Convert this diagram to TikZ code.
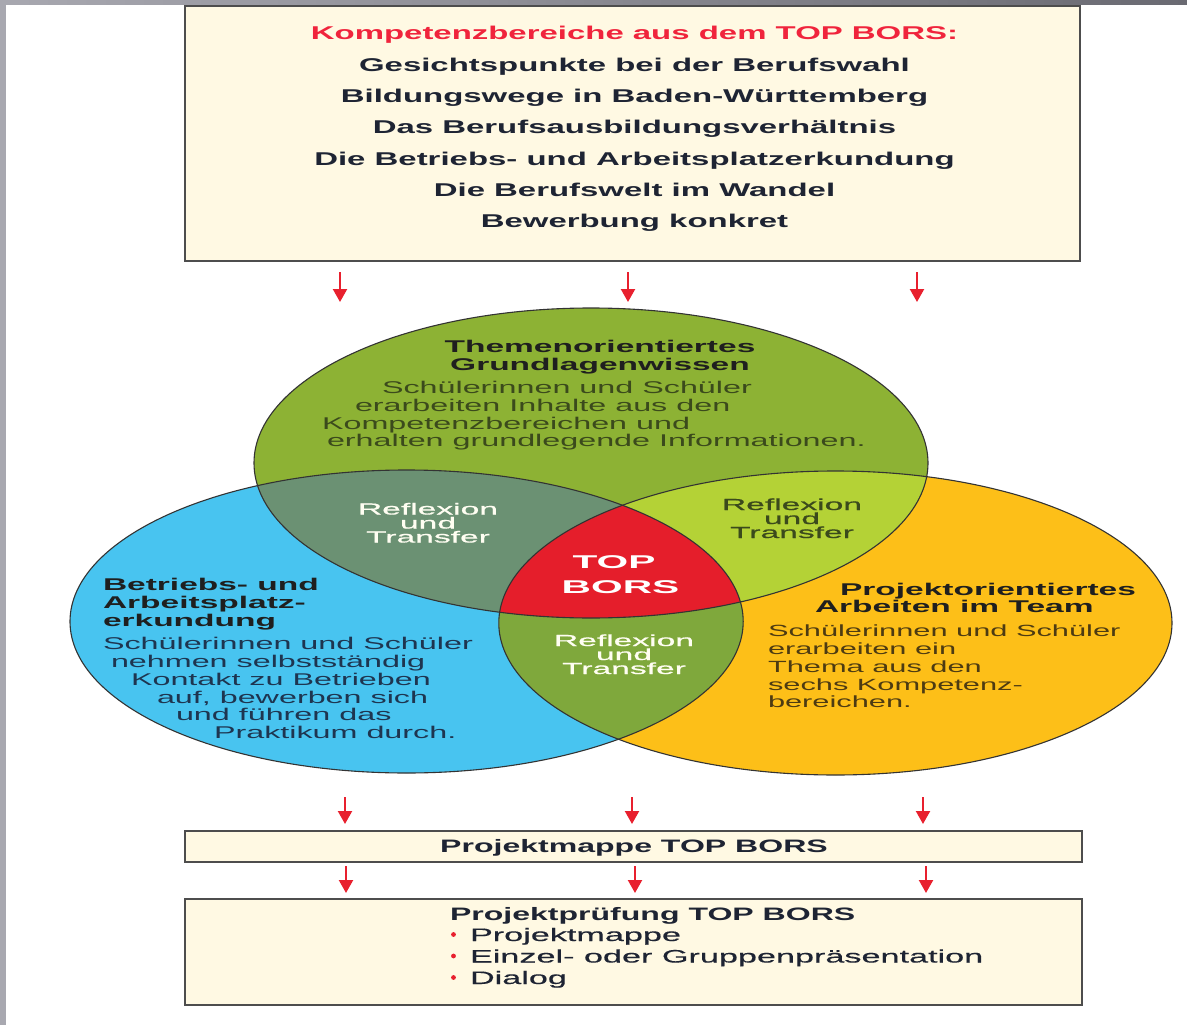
\documentclass[tikz,border=0pt]{standalone}
\usepackage{fontspec}
\usetikzlibrary{arrows.meta}
\newfontfamily\fHead[FakeStretch=1.78]{Liberation Sans}
\newfontfamily\fCT[FakeStretch=1.97]{Liberation Sans}
\newfontfamily\fCB[FakeStretch=1.9]{Liberation Sans}
\newfontfamily\fIt[FakeStretch=1.9,FakeBold=0.4]{Liberation Sans}
\newfontfamily\fRef[FakeStretch=2.1,FakeBold=0.8]{Liberation Sans}
\newfontfamily\fTB[FakeStretch=2.2]{Liberation Sans}
\definecolor{frame}{HTML}{A8A8B0}
\definecolor{framedark}{HTML}{6A6A72}
\definecolor{cream}{HTML}{FFF9E3}
\definecolor{boxline}{HTML}{4D4D4D}
\definecolor{cgreen}{HTML}{8DB234}
\definecolor{cblue}{HTML}{48C4F0}
\definecolor{corange}{HTML}{FDBF18}
\definecolor{cgb}{HTML}{6B9173}
\definecolor{cgo}{HTML}{B4D236}
\definecolor{cbo}{HTML}{7FA83C}
\definecolor{cred}{HTML}{E51E2B}
\definecolor{headred}{HTML}{F0243C}
\definecolor{darktext}{HTML}{1E2433}
\definecolor{gtext}{HTML}{3B4A1C}
\definecolor{btext}{HTML}{1E3550}
\definecolor{otext}{HTML}{4D3B12}
\definecolor{arrowred}{HTML}{E8202E}
\tikzset{
  boxstyle/.style={fill=cream, draw=boxline, line width=2pt},
  ring/.style={draw=black!80, line width=1.1pt},
  txt/.style={inner sep=0pt, outer sep=0pt},
  headline/.style={txt, anchor=base, font=\fHead\bfseries\fontsize{18.5}{22}\selectfont, text=darktext},
  ctitle/.style={txt, font=\fCT\bfseries\fontsize{17}{18}\selectfont, text=black!88},
  cbody/.style={txt, anchor=base west, font=\fCB\fontsize{17}{18}\selectfont},
  refl/.style={txt, anchor=base, font=\fRef\fontsize{16}{16}\selectfont},
  redarrow/.style={draw=arrowred, line width=2.2pt, -{Triangle[width=14pt,length=13pt]}},
}
\begin{document}
\begin{tikzpicture}[x=1pt,y=-1pt]
\useasboundingbox (0,0) rectangle (1187,1025);
\fill[white] (0,0) rectangle (1187,1025);
% screenshot frame
\fill[frame] (0,0) rectangle (6,1025);
\shade[left color=frame, right color=framedark] (0,0) rectangle (1187,4.5);

% top box
\draw[boxstyle] (185,6) rectangle (1080,261);
\node[headline, text=headred] (k0) at (634.5,40) {Kompetenzbereiche aus dem TOP BORS:};
\foreach \y/\t [count=\i] in {71.2/{Gesichtspunkte bei der Berufswahl},
  102.5/{Bildungswege in Baden-Württemberg},
  133.8/{Das Berufsausbildungsverhältnis},
  165.1/{Die Betriebs- und Arbeitsplatzerkundung},
  196.4/{Die Berufswelt im Wandel},
  227.7/{Bewerbung konkret}}
  \node[headline] (k\i) at (634.5,\y) {\t};

% arrows row 1
\foreach \x [count=\i] in {340,628,917}{
  \coordinate (ua\i) at (\x,272);
  \coordinate (ub\i) at (\x,302);
  \draw[redarrow] (ua\i) -- (ub\i);
}

% Venn diagram
\def\EG{(591,463) ellipse [x radius=337, y radius=155]}
\def\EB{(406.6,621.5) ellipse [x radius=336.6, y radius=151.5]}
\def\EO{(835.4,623) ellipse [x radius=336.6, y radius=152]}
\fill[cblue] \EB;
\fill[corange] \EO;
\fill[cgreen] \EG;
\begin{scope}\clip \EG; \fill[cgb] \EB; \end{scope}
\begin{scope}\clip \EG; \fill[cgo] \EO; \end{scope}
\begin{scope}\clip \EB; \fill[cbo] \EO; \end{scope}
\begin{scope}\clip \EG; \clip \EB; \fill[cred] \EO; \end{scope}
\draw[ring] \EB;
\draw[ring] \EO;
\draw[ring] \EG;

% green circle text
\node[ctitle, anchor=base] (gt1) at (600,352.5) {Themenorientiertes};
\node[ctitle, anchor=base] (gt2) at (600,370) {Grundlagenwissen};
\foreach \x/\y/\t [count=\i] in {382/393.5/{Schülerinnen und Schüler},
  355/411/{erarbeiten Inhalte aus den},
  322/429/{Kompetenzbereichen und},
  327/446.5/{erhalten grundlegende Informationen.}}
  \node[cbody, text=gtext] (gb\i) at (\x,\y) {\t};

% blue circle text
\foreach \y/\t [count=\i] in {590/{Betriebs- und}, 608/{Arbeitsplatz-}, 626/{erkundung}}
  \node[ctitle, anchor=base west] (bt\i) at (103,\y) {\t};
\foreach \x/\y/\t [count=\i] in {103/649/{Schülerinnen und Schüler},
  111/667/{nehmen selbstständig},
  131/685/{Kontakt zu Betrieben},
  157/703/{auf, bewerben sich},
  176/720.5/{und führen das},
  214/738/{Praktikum durch.}}
  \node[cbody, text=btext] (bb\i) at (\x,\y) {\t};

% orange circle text
\node[ctitle, anchor=base west] (ot1) at (840,595) {Projektorientiertes};
\node[ctitle, anchor=base west] (ot2) at (815,612) {Arbeiten im Team};
\foreach \y/\t [count=\i] in {636/{Schülerinnen und Schüler},
  654/{erarbeiten ein},
  672/{Thema aus den},
  690/{sechs Kompetenz-},
  707/{bereichen.}}
  \node[cbody, text=otext, font=\fCB\fontsize{16.2}{18}\selectfont] (ob\i) at (768,\y) {\t};

% intersections
\foreach \y/\t [count=\i] in {514.5/Reflexion, 528.5/und, 542.5/Transfer}
  \node[refl, text=white!95!yellow] (rl\i) at (428,\y) {\t};
\foreach \y/\t [count=\i] in {510/Reflexion, 524/und, 538/Transfer}
  \node[refl, text=gtext] (rr\i) at (792,\y) {\t};
\foreach \y/\t [count=\i] in {646/Reflexion, 660/und, 674/Transfer}
  \node[refl, text=white!95!yellow] (rb\i) at (624,\y) {\t};
\node[txt, anchor=base, font=\fTB\bfseries\fontsize{18.5}{20}\selectfont, text=white] (tb1) at (614,568) {TOP};
\node[txt, anchor=base, font=\fTB\bfseries\fontsize{18.5}{20}\selectfont, text=white] (tb2) at (620.5,593) {BORS};

% arrows row 2
\foreach \x [count=\i] in {345,632,923}{
  \coordinate (ma\i) at (\x,797);
  \coordinate (mb\i) at (\x,824);
  \draw[redarrow] (ma\i) -- (mb\i);
}
\draw[boxstyle] (185,830.5) rectangle (1082,861.5);
\node[headline, font=\fHead\bfseries\fontsize{18}{22}\selectfont] (pm) at (634,852) {Projektmappe TOP BORS};

% arrows row 3
\foreach \x [count=\i] in {346,635,926}{
  \coordinate (la\i) at (\x,866);
  \coordinate (lb\i) at (\x,893);
  \draw[redarrow] (la\i) -- (lb\i);
}
\draw[boxstyle] (185,899) rectangle (1082,1005);
\node[headline, anchor=base west, font=\fHead\bfseries\fontsize{18}{22}\selectfont] (pp) at (450,920) {Projektprüfung TOP BORS};
\foreach \y/\t [count=\i] in {941/Projektmappe, 962.5/{Einzel- oder Gruppenpräsentation}, 984/Dialog}{
  \node[txt, anchor=base west, font=\fIt\fontsize{18}{22}\selectfont, text=darktext] (it\i) at (470,\y) {\t};
  \fill[arrowred] (453.5,\y-6.5) circle (2.4);
}
\end{tikzpicture}
\end{document}
